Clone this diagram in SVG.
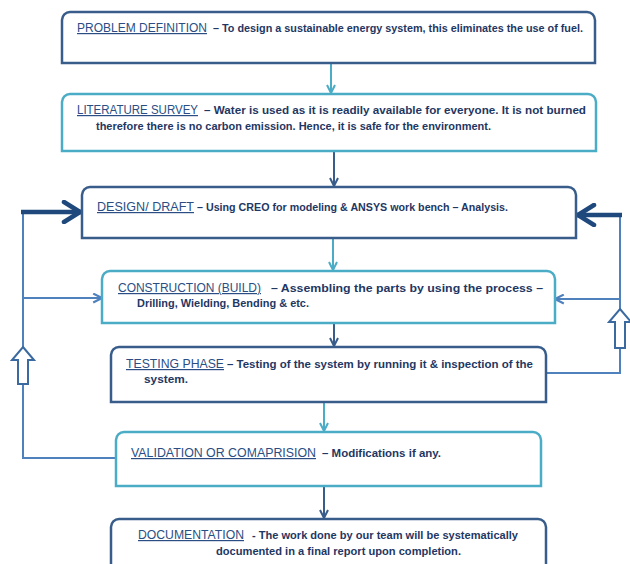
<svg xmlns="http://www.w3.org/2000/svg" width="630" height="564" viewBox="0 0 630 564">
<style>
.bd{fill:#fff;stroke:#385D8A;stroke-width:2.5}
.bt{fill:#fff;stroke:#4BACC6;stroke-width:2.5}
.h{font-family:"Liberation Sans",Arial,sans-serif;font-size:12px;fill:#2A4E84;text-decoration:underline}
.b{font-family:"Liberation Sans",Arial,sans-serif;font-size:10.5px;font-weight:bold;fill:#1F3763}
.ct{stroke:#4BACC6;stroke-width:2;fill:none}
.cd{stroke:#385D8A;stroke-width:2;fill:none}
.cm{stroke:#4F81BD;stroke-width:2;fill:none}
.ck{stroke:#1F497D;stroke-width:4.5;fill:none}
.ho{fill:#fff;stroke:#3B6AA0;stroke-width:2}
</style>
<defs>
<marker id="mt" viewBox="0 0 10 10" refX="9" refY="5" markerWidth="10" markerHeight="10" markerUnits="userSpaceOnUse" orient="auto"><path d="M1,1 L9,5 L1,9" fill="none" stroke="#4BACC6" stroke-width="2"/></marker>
<marker id="md" viewBox="0 0 10 10" refX="9" refY="5" markerWidth="10" markerHeight="10" markerUnits="userSpaceOnUse" orient="auto"><path d="M1,1 L9,5 L1,9" fill="none" stroke="#385D8A" stroke-width="2"/></marker>
<marker id="mm" viewBox="0 0 10 10" refX="9" refY="5" markerWidth="11" markerHeight="11" markerUnits="userSpaceOnUse" orient="auto"><path d="M1,1 L9,5 L1,9" fill="none" stroke="#4F81BD" stroke-width="2"/></marker>
<marker id="mk" viewBox="0 0 22 24" refX="20" refY="12" markerWidth="22" markerHeight="24" markerUnits="userSpaceOnUse" orient="auto"><path d="M3,2 L19,12 L3,22" fill="none" stroke="#1F497D" stroke-width="4.5" stroke-linecap="round" stroke-linejoin="round"/></marker>
</defs>

<g id="connectors">
<line class="ct" x1="331" y1="64" x2="331" y2="93" marker-end="url(#mt)"/>
<line class="cd" x1="334" y1="152" x2="334" y2="186" marker-end="url(#md)"/>
<line class="ct" x1="333" y1="239" x2="333" y2="270" marker-end="url(#mt)"/>
<line class="cd" x1="334" y1="324" x2="334" y2="346" marker-end="url(#md)"/>
<line class="ct" x1="324" y1="403" x2="324" y2="431" marker-end="url(#mt)"/>
<line class="cd" x1="324" y1="487" x2="324" y2="518" marker-end="url(#md)"/>
<polyline class="cm" points="116,458 23,458 23,212"/>
<line class="ck" x1="21" y1="212" x2="81" y2="212" marker-end="url(#mk)"/>
<line class="cm" x1="23" y1="298" x2="102" y2="298" marker-end="url(#mm)"/>
<polygon class="ho" points="23,347 34,360 28,360 28,384 18,384 18,360 12,360"/>
<polyline class="cm" points="546,373 620,373 620,215"/>
<line class="ck" x1="622" y1="215" x2="577" y2="215" marker-end="url(#mk)"/>
<line class="cm" x1="620" y1="299" x2="555" y2="299" marker-end="url(#mm)"/>
<polygon class="ho" points="620,309 631,322 625,322 625,348 615,348 615,322 609,322"/>
</g>

<g id="problem">
<path class="bd" d="M62,63 L62,20 A8,8 0 0 1 70,12 L587,12 A8,8 0 0 1 595,20 L595,63 Z"/>
<text class="h" x="77" y="32" textLength="130" lengthAdjust="spacingAndGlyphs">PROBLEM  DEFINITION</text>
<text class="b" x="213" y="32" textLength="370" lengthAdjust="spacingAndGlyphs">– To design a sustainable energy system, this eliminates the use of fuel.</text>
</g>

<g id="literature">
<path class="bt" d="M62,151 L62,102 A8,8 0 0 1 70,94 L588,94 A8,8 0 0 1 596,102 L596,151 Z"/>
<text class="h" x="77" y="114" textLength="121" lengthAdjust="spacingAndGlyphs">LITERATURE  SURVEY</text>
<text class="b" x="204" y="114" textLength="382" lengthAdjust="spacingAndGlyphs">– Water is used as it is readily available for everyone. It is not burned</text>
<text class="b" x="96" y="130" textLength="395" lengthAdjust="spacingAndGlyphs">therefore there is no carbon emission. Hence, it is safe for the environment.</text>
</g>

<g id="design">
<path class="bd" d="M82,238 L82,195 A8,8 0 0 1 90,187 L568,187 A8,8 0 0 1 576,195 L576,238 Z"/>
<text class="h" x="97" y="211" textLength="97" lengthAdjust="spacingAndGlyphs">DESIGN/  DRAFT </text>
<text class="b" x="197" y="211" textLength="311" lengthAdjust="spacingAndGlyphs">– Using CREO for modeling &amp; ANSYS work bench – Analysis.</text>
</g>

<g id="construction">
<path class="bt" d="M102,323 L102,279 A8,8 0 0 1 110,271 L547,271 A8,8 0 0 1 555,279 L555,323 Z"/>
<text class="h" x="118" y="292" textLength="143" lengthAdjust="spacingAndGlyphs">CONSTRUCTION  (BUILD)</text>
<text class="b" x="271" y="292" textLength="272" lengthAdjust="spacingAndGlyphs">– Assembling the parts by using the process –</text>
<text class="b" x="137" y="307" textLength="172" lengthAdjust="spacingAndGlyphs">Drilling, Wielding, Bending &amp; etc.</text>
</g>

<g id="testing">
<path class="bd" d="M111,402 L111,355 A8,8 0 0 1 119,347 L538,347 A8,8 0 0 1 546,355 L546,402 Z"/>
<text class="h" x="126" y="368" textLength="98" lengthAdjust="spacingAndGlyphs">TESTING  PHASE </text>
<text class="b" x="227" y="368" textLength="306" lengthAdjust="spacingAndGlyphs">– Testing of the system by running it &amp; inspection of the</text>
<text class="b" x="144" y="383" textLength="44" lengthAdjust="spacingAndGlyphs">system.</text>
</g>

<g id="validation">
<path class="bt" d="M116,486 L116,440 A8,8 0 0 1 124,432 L533,432 A8,8 0 0 1 541,440 L541,486 Z"/>
<text class="h" x="131" y="457" textLength="185" lengthAdjust="spacingAndGlyphs">VALIDATION OR COMAPRISION</text>
<text class="b" x="322" y="457" textLength="119" lengthAdjust="spacingAndGlyphs">– Modifications if any.</text>
</g>

<g id="documentation">
<path class="bd" d="M111,580 L111,527 A8,8 0 0 1 119,519 L538,519 A8,8 0 0 1 546,527 L546,580"/>
<text class="h" x="138" y="539" textLength="106" lengthAdjust="spacingAndGlyphs">DOCUMENTATION</text>
<text class="b" x="252" y="539" textLength="266" lengthAdjust="spacingAndGlyphs">- The work done by our team will be systematically</text>
<text class="b" x="216" y="555" textLength="245" lengthAdjust="spacingAndGlyphs">documented in a final report upon completion.</text>
</g>
</svg>
